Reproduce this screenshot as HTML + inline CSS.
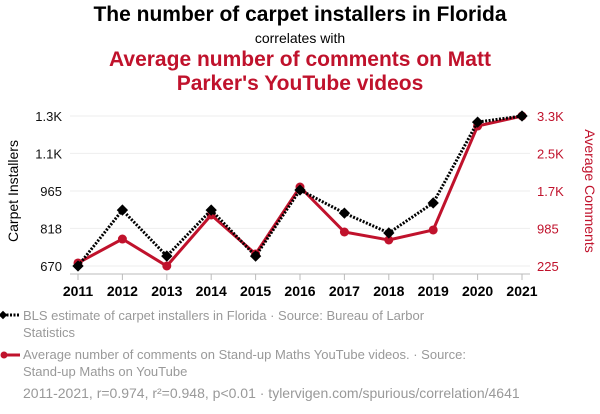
<!DOCTYPE html>
<html><head><meta charset="utf-8"><style>
body{margin:0;background:#fff;font-family:"Liberation Sans",sans-serif;}
#wrap{position:relative;width:600px;height:414px;overflow:hidden;}
.t{position:absolute;left:0;width:600px;text-align:center;}
.leg{position:absolute;left:23px;font-size:13px;color:#999;line-height:17px;width:470px;}
</style></head><body>
<div id="wrap">
<div class="t" style="top:3px;font-size:21px;font-weight:bold;color:#000">The number of carpet installers in Florida</div>
<div class="t" style="top:30px;font-size:14px;color:#000">correlates with</div>
<div class="t" style="top:48px;font-size:21px;font-weight:bold;color:#c0122c;line-height:24px">Average number of comments on Matt<br>Parker's YouTube videos</div>
<svg id="svg" width="600" height="300" style="position:absolute;left:0;top:0"></svg>
<div class="leg" style="top:307px;width:425px">BLS estimate of carpet installers in Florida · Source: Bureau of Larbor Statistics</div>
<div class="leg" style="top:346px">Average number of comments on Stand-up Maths YouTube videos. · Source: Stand-up Maths on YouTube</div>
<div class="leg" style="top:385px;width:580px;font-size:14px">2011-2021, r=0.974, r²=0.948, p&lt;0.01 · tylervigen.com/spurious/correlation/4641</div>
<svg width="24" height="80" style="position:absolute;left:0;top:305px">
<line x1="3" y1="10" x2="20" y2="10" stroke="#000" stroke-width="3" stroke-dasharray="2,1.5"/><rect x="0" y="7" width="6" height="6" transform="rotate(45 3 10)" fill="#000"/>
<line x1="3" y1="50" x2="20" y2="50" stroke="#c0122c" stroke-width="3"/><circle cx="4" cy="50" r="3.5" fill="#c0122c"/>
</svg>
</div>
<script>
const years=[2011,2012,2013,2014,2015,2016,2017,2018,2019,2020,2021];
const installers=[670,890,709,890,709,969,878,800,918,1236,1260];
const comments=[286,772,225,1259,468,1826,914,752,955,3062,3265];
const leftTicks=[670,818,965,1113,1260];
const leftLabels=["670","818","965","1.1K","1.3K"];
const rightTicks=[225,985,1745,2505,3265];
const rightLabels=["225","985","1.7K","2.5K","3.3K"];
const svg=document.getElementById('svg');const NS="http://www.w3.org/2000/svg";
const x=y=>78+(y-2011)*(522-78)/10;
const yl=v=>266-(v-670)/(1260-670)*150;
const yr=v=>266-(v-225)/(3265-225)*150;
function mk(t,a,p){const e=document.createElementNS(NS,t);for(const k in a)e.setAttribute(k,a[k]);(p||svg).appendChild(e);return e;}
leftTicks.forEach((v,i)=>{const g=mk('line',{x1:70,x2:530,y1:yl(v),y2:yl(v),stroke:'#eee'});


const t=mk('text',{x:62,y:yl(v)+5,'text-anchor':'end','font-size':13,fill:'#111'});t.textContent=leftLabels[i];

});
rightTicks.forEach((v,i)=>{const t=mk('text',{x:537,y:yr(v)+5,'font-size':13,fill:'#c0122c'});t.textContent=rightLabels[i];

});
mk('line',{x1:70,x2:530,y1:274,y2:274,stroke:'#bbb'});
years.forEach(yy=>{mk('line',{x1:x(yy),x2:x(yy),y1:274,y2:280,stroke:'#bbb'});
const t=mk('text',{x:x(yy),y:296,'text-anchor':'middle','font-size':14,'font-weight':'bold',fill:'#000'});t.textContent=yy;

});
let a=mk('text',{x:18,y:191,'text-anchor':'middle','font-size':14,fill:'#000',transform:'rotate(-90 18 191)'});a.textContent='Carpet Installers';


a=mk('text',{x:585,y:191,'text-anchor':'middle','font-size':14,fill:'#c0122c',transform:'rotate(90 585 191)'});a.textContent='Average Comments';


let l=mk('polyline',{points:years.map((yy,i)=>x(yy)+','+yr(comments[i])).join(' '),fill:'none',stroke:'#c0122c','stroke-width':3});


years.forEach((yy,i)=>{const c=mk('circle',{cx:x(yy),cy:yr(comments[i]),r:4.5,fill:'#c0122c'});

});
l=mk('polyline',{points:years.map((yy,i)=>x(yy)+','+yl(installers[i])).join(' '),fill:'none',stroke:'#000','stroke-width':3,'stroke-dasharray':'2,1.5'});


years.forEach((yy,i)=>{const cx=x(yy),cy=yl(installers[i]);const r=mk('rect',{x:cx-4,y:cy-4,width:8,height:8,fill:'#000',transform:`rotate(45 ${cx} ${cy})`});

});
</script>
</body></html>
